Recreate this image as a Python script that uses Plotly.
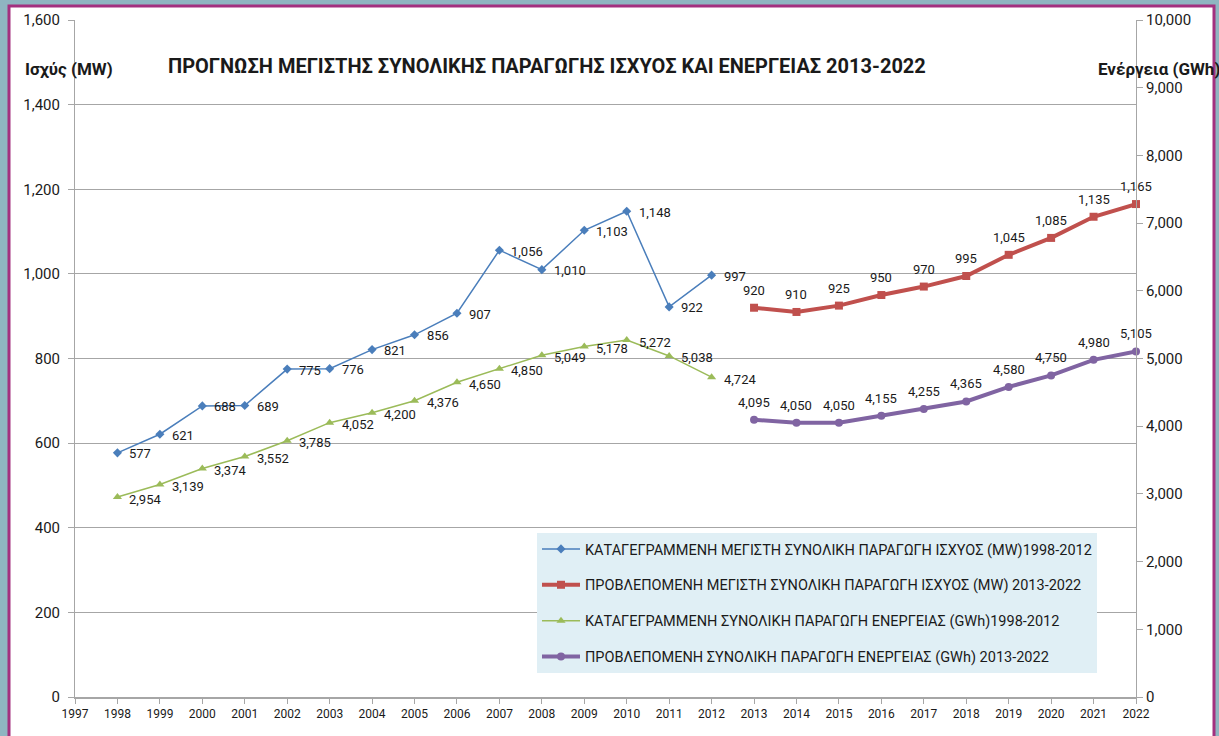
import plotly.graph_objects as go

years_hist = [1998, 1999, 2000, 2001, 2002, 2003, 2004, 2005, 2006, 2007, 2008, 2009, 2010, 2011, 2012]
years_fc = [2013, 2014, 2015, 2016, 2017, 2018, 2019, 2020, 2021, 2022]
mw_hist = [577, 621, 688, 689, 775, 776, 821, 856, 907, 1056, 1010, 1103, 1148, 922, 997]
mw_fc = [920, 910, 925, 950, 970, 995, 1045, 1085, 1135, 1165]
gwh_hist = [2954, 3139, 3374, 3552, 3785, 4052, 4200, 4376, 4650, 4850, 5049, 5178, 5272, 5038, 4724]
gwh_fc = [4095, 4050, 4050, 4155, 4255, 4365, 4580, 4750, 4980, 5105]
x_ticks = list(range(1997, 2023))

names = [
    "ΚΑΤΑΓΕΓΡΑΜΜΕΝΗ ΜΕΓΙΣΤΗ ΣΥΝΟΛΙΚΗ ΠΑΡΑΓΩΓΗ ΙΣΧΥΟΣ (MW)1998-2012",
    "ΠΡΟΒΛΕΠΟΜΕΝΗ ΜΕΓΙΣΤΗ ΣΥΝΟΛΙΚΗ ΠΑΡΑΓΩΓΗ ΙΣΧΥΟΣ (MW) 2013-2022",
    "ΚΑΤΑΓΕΓΡΑΜΜΕΝΗ ΣΥΝΟΛΙΚΗ ΠΑΡΑΓΩΓΗ ΕΝΕΡΓΕΙΑΣ (GWh)1998-2012",
    "ΠΡΟΒΛΕΠΟΜΕΝΗ ΣΥΝΟΛΙΚΗ ΠΑΡΑΓΩΓΗ ΕΝΕΡΓΕΙΑΣ (GWh) 2013-2022",
]

FONT = "Roboto"
TXT = "#1a1a1a"
TEAL = "#8fb5c1"
W, H = 1219, 736
L, R, T, B = 75, 83, 20, 39
PW, PH = W - L - R, H - T - B


def px2x(px):
    return (px - L) / PW


def px2y(py):
    return (H - B - py) / PH


def fmt(v):
    return f"{v:,}"


fig = go.Figure()

fig.add_trace(go.Scatter(
    x=years_hist, y=mw_hist, name=names[0], legendgroup="a",
    mode="lines+markers", cliponaxis=False,
    line=dict(color="#4a7ebb", width=1.5),
    marker=dict(symbol="diamond", size=7, color="#4a7ebb"),
))
fig.add_trace(go.Scatter(
    x=years_fc, y=mw_fc, name=names[1], legendgroup="b",
    mode="lines+markers", cliponaxis=False,
    line=dict(color="#c0504d", width=4),
    marker=dict(symbol="square", size=8, color="#c0504d"),
))
fig.add_trace(go.Scatter(
    x=years_hist, y=gwh_hist, name=names[2], legendgroup="c", yaxis="y2",
    mode="lines+markers", cliponaxis=False,
    line=dict(color="#9bbb59", width=1.5),
    marker=dict(symbol="triangle-up", size=8, color="#9bbb59"),
))
fig.add_trace(go.Scatter(
    x=years_fc, y=gwh_fc, name=names[3], legendgroup="d", yaxis="y2",
    mode="lines+markers", cliponaxis=False,
    line=dict(color="#8064a2", width=4),
    marker=dict(symbol="circle", size=8, color="#8064a2"),
))

shapes = [
    dict(type="rect", xref="paper", yref="paper",
         x0=px2x(9), x1=px2x(1214), y0=px2y(760), y1=px2y(6),
         fillcolor="white", line=dict(color="#a3307f", width=3), layer="below"),
]

label_font = dict(family=FONT, size=13, color=TXT)
annotations = []
for xs, ys, yref, ysh in [(years_hist, mw_hist, "y", -1), (years_hist, gwh_hist, "y2", -2)]:
    for xv, yv in zip(xs, ys):
        annotations.append(dict(x=xv, y=yv, xref="x", yref=yref, text=fmt(yv), showarrow=False,
                                xanchor="left", yanchor="middle", xshift=10, yshift=ysh,
                                font=label_font))
for xs, ys, yref in [(years_fc, mw_fc, "y"), (years_fc, gwh_fc, "y2")]:
    for xv, yv in zip(xs, ys):
        annotations.append(dict(x=xv, y=yv, xref="x", yref=yref, text=fmt(yv), showarrow=False,
                                xanchor="center", yanchor="bottom", yshift=8,
                                font=label_font))

annotations += [
    dict(text="<b>ΠΡΟΓΝΩΣΗ ΜΕΓΙΣΤΗΣ ΣΥΝΟΛΙΚΗΣ ΠΑΡΑΓΩΓΗΣ ΙΣΧΥΟΣ ΚΑΙ ΕΝΕΡΓΕΙΑΣ 2013-2022</b>",
         xref="paper", yref="paper", x=px2x(547), y=px2y(66), showarrow=False,
         xanchor="center", yanchor="middle", font=dict(family=FONT, size=20, color=TXT)),
    dict(text="<b>Ισχύς (MW)</b>", xref="paper", yref="paper", x=px2x(23), y=px2y(69),
         showarrow=False, xanchor="left", yanchor="middle",
         font=dict(family=FONT, size=17, color=TXT)),
    dict(text="<b>Ενέργεια (GWh)</b>", xref="paper", yref="paper", x=px2x(1096), y=px2y(69),
         showarrow=False, xanchor="left", yanchor="middle",
         font=dict(family=FONT, size=17, color=TXT)),
]

fig.update_layout(
    width=W, height=H,
    margin=dict(l=L, r=R, t=T, b=B),
    paper_bgcolor=TEAL,
    plot_bgcolor="rgba(0,0,0,0)",
    font=dict(family=FONT, color=TXT),
    showlegend=True,
    legend=dict(
        x=px2x(537), y=px2y(533), xanchor="left", yanchor="top",
        bgcolor="#e0eff5", borderwidth=0, tracegroupgap=14,
        font=dict(family=FONT, size=14.5, color=TXT),
        itemwidth=38,
    ),
    xaxis=dict(
        range=[1997, 2022], tickmode="array", tickvals=x_ticks,
        ticktext=[str(v) for v in x_ticks],
        showgrid=False, zeroline=False,
        showline=True, linecolor="#a6a6a6", linewidth=2,
        ticks="outside", ticklen=5, tickcolor="#a6a6a6",
        tickfont=dict(family=FONT, size=12, color=TXT),
    ),
    yaxis=dict(
        range=[0, 1600], tickvals=list(range(0, 1601, 200)), tickformat=",d",
        showgrid=True, gridcolor="#a6a6a6", gridwidth=1, zeroline=False,
        showline=True, linecolor="#a6a6a6", linewidth=1,
        ticks="outside", ticklen=6, tickcolor="#a6a6a6",
        ticklabelstandoff=5,
        tickfont=dict(family=FONT, size=15, color=TXT),
    ),
    yaxis2=dict(
        range=[0, 10000], tickvals=list(range(0, 10001, 1000)), tickformat=",d",
        overlaying="y", side="right", showgrid=False, zeroline=False,
        showline=True, linecolor="#a6a6a6", linewidth=1,
        ticks="outside", ticklen=6, tickcolor="#a6a6a6",
        tickfont=dict(family=FONT, size=15, color=TXT),
    ),
    shapes=shapes,
    annotations=annotations,
)

fig.write_html(
    "out.html",
    config={"displayModeBar": False},
    post_script="document.body.style.margin='0';document.body.style.background='%s';" % TEAL,
)
